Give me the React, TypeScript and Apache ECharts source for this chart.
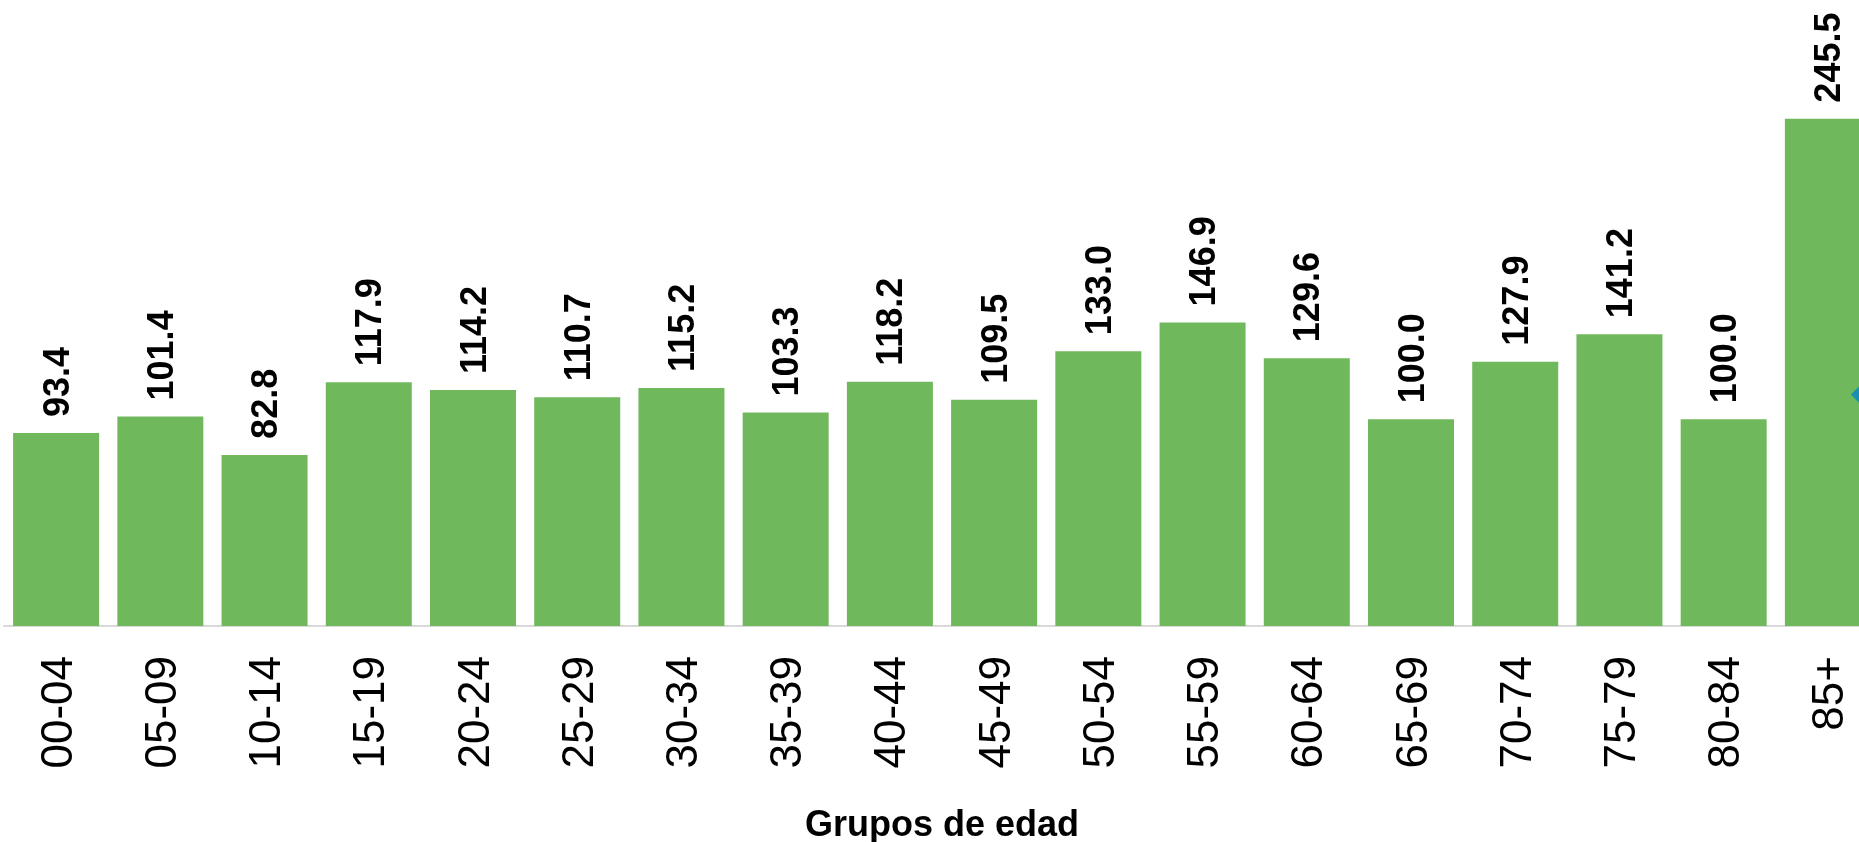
import React, { useEffect, useRef } from "react";
import * as echarts from "echarts";

const categories = [
  "00-04", "05-09", "10-14", "15-19", "20-24", "25-29", "30-34", "35-39", "40-44",
  "45-49", "50-54", "55-59", "60-64", "65-69", "70-74", "75-79", "80-84", "85+",
];
const values = [
  93.4, 101.4, 82.8, 117.9, 114.2, 110.7, 115.2, 103.3, 118.2,
  109.5, 133.0, 146.9, 129.6, 100.0, 127.9, 141.2, 100.0, 245.5,
];
const markerCategory = "85+";
const markerValue = 112;
const axisName = "Grupos de edad";

export default function App() {
  const ref = useRef<HTMLDivElement>(null);
  useEffect(() => {
    if (!ref.current) return;
    const chart = echarts.init(ref.current, null, { renderer: "svg" });
    chart.setOption({
      animation: false,
      textStyle: { fontFamily: "Liberation Sans, Arial, sans-serif" },
      grid: {
        left: 4,
        top: 6,
        width: 1876,
        height: 620,
        containLabel: false,
        outerBoundsMode: "none",
      },
      xAxis: {
        type: "category",
        data: categories,
        axisLine: { show: true, lineStyle: { color: "#d9d9d9", width: 2 } },
        axisTick: { show: false },
        axisLabel: {
          rotate: 90,
          interval: 0,
          margin: 30,
          fontSize: 44,
          color: "#000",
          fontFamily: "Liberation Sans, Arial, sans-serif",
        },
        name: axisName,
        nameLocation: "middle",
        nameGap: 179,
        nameTextStyle: {
          fontSize: 36,
          fontWeight: "bold",
          color: "#000",
          verticalAlign: "top",
          fontFamily: "Liberation Sans, Arial, sans-serif",
        },
      },
      yAxis: {
        type: "value",
        min: 0,
        max: 300,
        show: false,
        splitLine: { show: false },
      },
      series: [
        {
          type: "bar",
          data: values,
          barWidth: 86,
          itemStyle: { color: "#6FB85B" },
          label: {
            show: true,
            position: "top",
            rotate: 90,
            align: "left",
            verticalAlign: "middle",
            distance: 16,
            fontSize: 36,
            fontWeight: "bold",
            color: "#000",
            fontFamily: "Liberation Sans, Arial, sans-serif",
            formatter: (p: any) => Number(p.value).toFixed(1),
          },
          markPoint: {
            symbol: "diamond",
            symbolSize: 18,
            symbolOffset: [32, 0],
            itemStyle: { color: "#1B8FB3" },
            label: { show: false },
            data: [{ coord: [markerCategory, markerValue] }],
          },
        },
      ],
    });
    return () => chart.dispose();
  }, []);
  return (
    <div
      ref={ref}
      style={{ position: "fixed", left: 0, top: 0, width: 1859, height: 842, overflow: "hidden" }}
    />
  );
}
